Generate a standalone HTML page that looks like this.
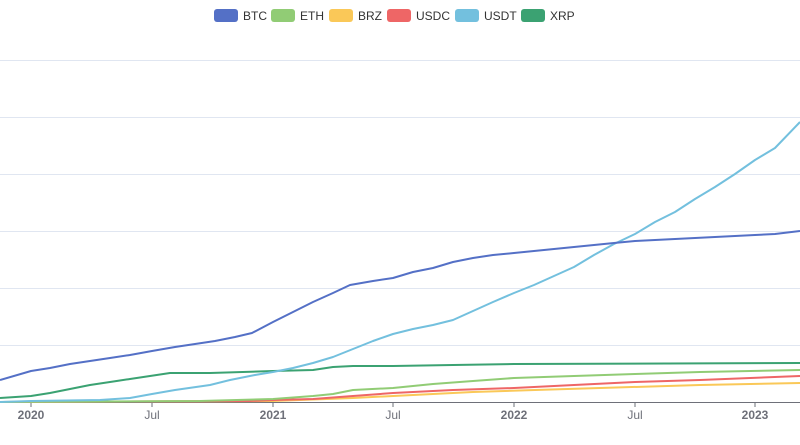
<!DOCTYPE html>
<html><head><style>body{margin:0;background:#fff;}svg{display:block;font-family:"Liberation Sans",sans-serif;}</style></head>
<body>
<svg width="800" height="445" viewBox="0 0 800 445">
<g stroke="#e0e6f1" stroke-width="1">
<line x1="0" y1="60.5" x2="800" y2="60.5"/><line x1="0" y1="117.5" x2="800" y2="117.5"/><line x1="0" y1="174.5" x2="800" y2="174.5"/><line x1="0" y1="231.5" x2="800" y2="231.5"/><line x1="0" y1="288.5" x2="800" y2="288.5"/><line x1="0" y1="345.5" x2="800" y2="345.5"/>
</g>
<line x1="0" y1="402.5" x2="800" y2="402.5" stroke="#6e7079"/>
<g stroke="#6e7079"><line x1="31" y1="402" x2="31" y2="407"/><line x1="152" y1="402" x2="152" y2="407"/><line x1="273" y1="402" x2="273" y2="407"/><line x1="393" y1="402" x2="393" y2="407"/><line x1="514" y1="402" x2="514" y2="407"/><line x1="635" y1="402" x2="635" y2="407"/><line x1="755" y1="402" x2="755" y2="407"/></g>
<g font-size="12" fill="#6e7079" text-anchor="middle">
<text x="31" y="419" font-weight="bold">2020</text><text x="152" y="419">Jul</text><text x="273" y="419" font-weight="bold">2021</text><text x="393" y="419">Jul</text><text x="514" y="419" font-weight="bold">2022</text><text x="635" y="419">Jul</text><text x="755" y="419" font-weight="bold">2023</text>
</g>
<g fill="none" stroke-width="2" stroke-linejoin="round">
<polyline stroke="#fac858" points="0,402 273,401 353,398 413,395 473,392 535,390 600,388 700,385 800,383"/>
<polyline stroke="#ee6666" points="0,402 250,401 273,400 313,399 353,396 393,393 453,390 514,388 574,385 635,382 700,380 800,376"/>
<polyline stroke="#91cc75" points="0,402 200,401 273,399 313,396 333,394 353,390 393,388 433,384 473,381 514,378 574,376 635,374 700,372 800,370"/>
<polyline stroke="#3ba272" points="0,398 31,396 50,393 70,389 90,385 110,382 130,379 150,376 170,373 210,373 273,371 313,370 333,367 353,366 393,366 453,365 514,364 800,363"/>
<polyline stroke="#73c0de" points="0,402 31,401 100,400 130,398 152,394 175,390 210,385 230,380 255,375 273,372 293,368 313,363 333,357 353,349 373,341 393,334 413,329 433,325 453,320 473,311 493,302 514,293 534,285 554,276 574,267 594,255 614,244 635,234 655,222 675,212 695,199 715,187 735,174 755,160 775,148 800,122"/>
<polyline stroke="#5470c6" points="0,380 31,371 50,368 70,364 90,361 110,358 130,355 152,351 175,347 195,344 215,341 235,337 252,333 273,322 293,312 313,302 333,293 350,285 373,281 393,278 413,272 433,268 453,262 473,258 493,255 514,253 534,251 554,249 574,247 594,245 614,243 635,241 655,240 675,239 695,238 715,237 735,236 755,235 775,234 800,231"/>
</g>
<g font-size="12" fill="#333">
<rect x="214" y="9" width="24" height="13" rx="3" fill="#5470c6"/><text x="243" y="20">BTC</text>
<rect x="271" y="9" width="24" height="13" rx="3" fill="#91cc75"/><text x="300" y="20">ETH</text>
<rect x="329" y="9" width="24" height="13" rx="3" fill="#fac858"/><text x="358" y="20">BRZ</text>
<rect x="387" y="9" width="24" height="13" rx="3" fill="#ee6666"/><text x="416" y="20">USDC</text>
<rect x="455" y="9" width="24" height="13" rx="3" fill="#73c0de"/><text x="484" y="20">USDT</text>
<rect x="521" y="9" width="24" height="13" rx="3" fill="#3ba272"/><text x="550" y="20">XRP</text>
</g>
</svg>
</body></html>
